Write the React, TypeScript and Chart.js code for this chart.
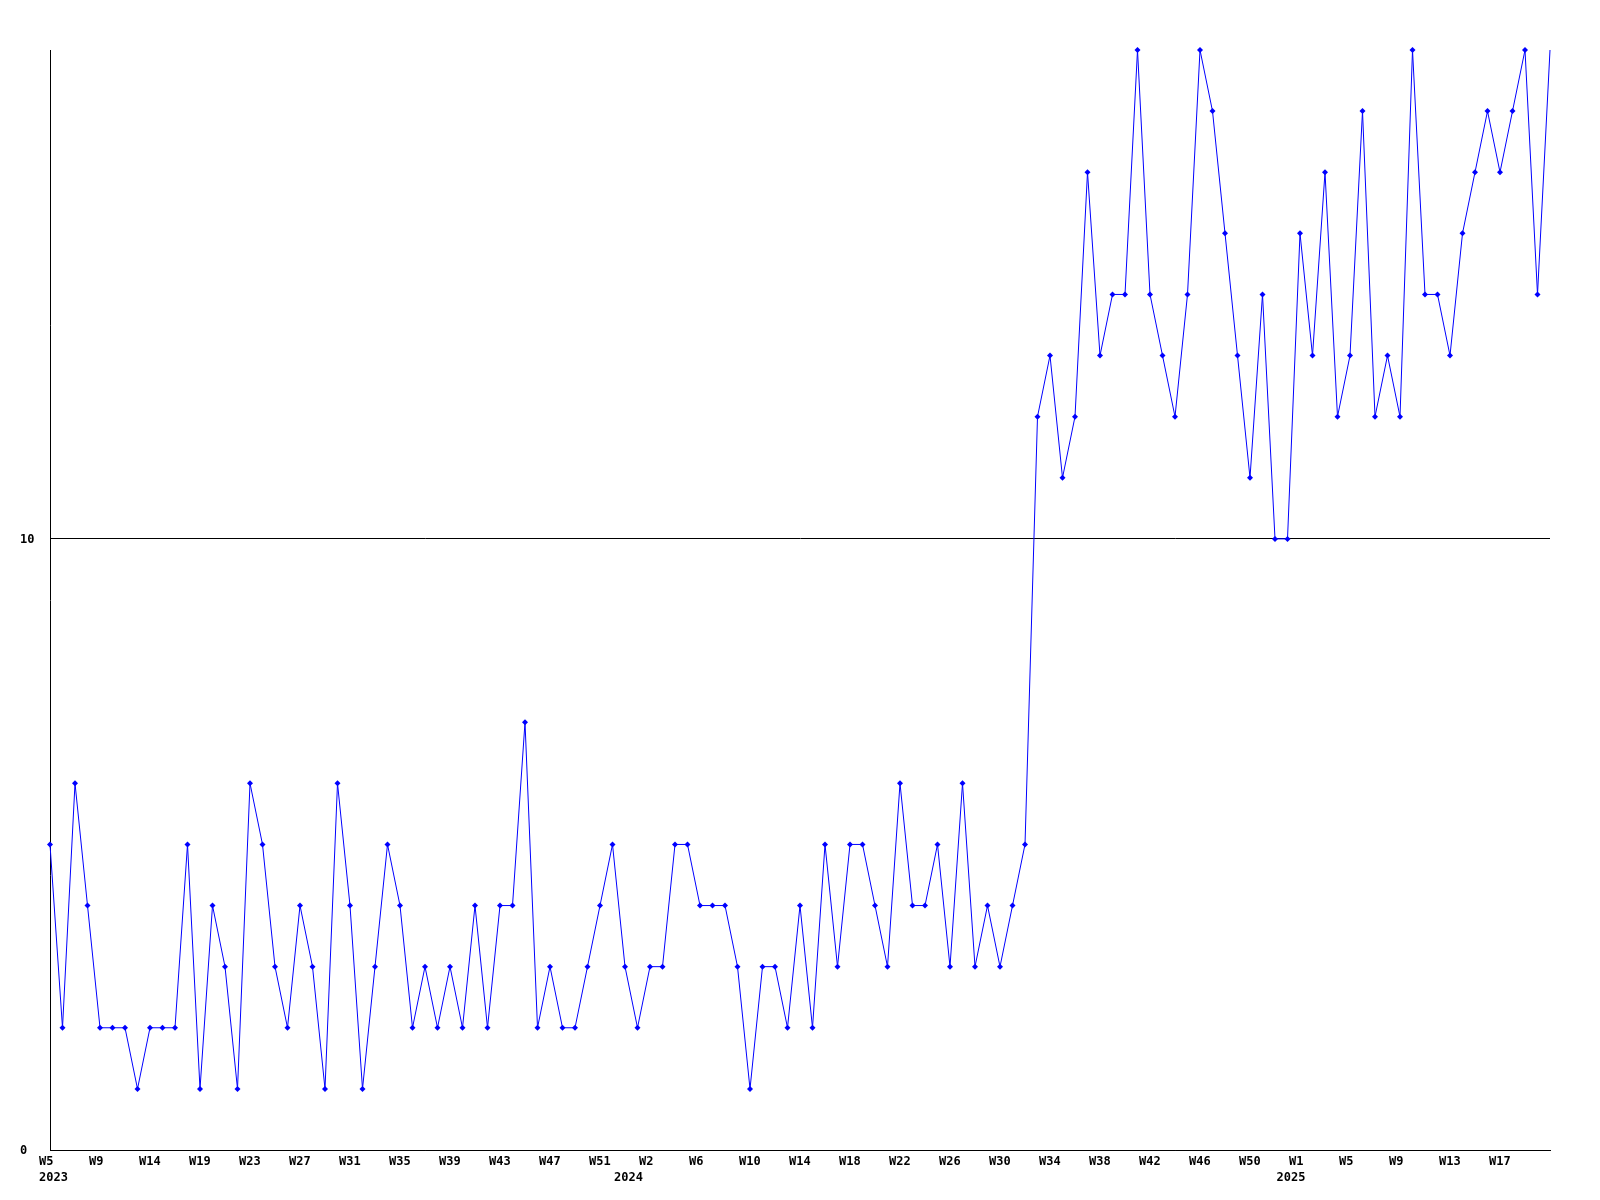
import React, { useEffect, useRef } from "react";
import { Chart, registerables } from "chart.js";

Chart.register(...registerables);

// Weekly counts, one per week starting 2023 W5
const weeklyValues: number[] = [
  5, 2, 6, 4, 2, 2, 2, 1, 2, 2, 2, 5, 1, 4, 3, 1, 6, 5, 3, 2,
  4, 3, 1, 6, 4, 1, 3, 5, 4, 2, 3, 2, 3, 2, 4, 2, 4, 4, 7, 2,
  3, 2, 2, 3, 4, 5, 3, 2, 3, 3, 5, 5, 4, 4, 4, 3, 1, 3, 3, 2,
  4, 2, 5, 3, 5, 5, 4, 3, 6, 4, 4, 5, 3, 6, 3, 4, 3, 4, 5,
  12, 13, 11, 12, 16, 13, 14, 14, 18, 14, 13, 12, 14, 18, 17, 15, 13, 11, 14, 10,
  10, 15, 13, 16, 12, 13, 17, 12, 13, 12, 18, 14, 14, 13, 15, 16, 17, 16, 17, 18,
  14, 18,
];

// Week tick labels, every 4th point
const weekTickLabels: string[] = [
  "W5", "W9", "W14", "W19", "W23", "W27", "W31", "W35", "W39", "W43",
  "W47", "W51", "W2", "W6", "W10", "W14", "W18", "W22", "W26", "W30",
  "W34", "W38", "W42", "W46", "W50", "W1", "W5", "W9", "W13", "W17",
];
const weekTickStep = 4;

// Year labels and the point index where each year starts
const yearLabels: string[] = ["2023", "2024", "2025"];
const yearStartIndex: number[] = [0, 46, 99];

// Y axis ticks
const yTickValues: number[] = [0, 10];
const yMax = 18;

const tickFont = { family: "'DejaVu Sans Mono', monospace", size: 12, weight: "bold" as const };

export default function App() {
  const canvasRef = useRef<HTMLCanvasElement | null>(null);

  useEffect(() => {
    const canvas = canvasRef.current;
    if (!canvas) return;
    const lastIdx = weeklyValues.length - 1;
    const chart = new Chart(canvas, {
      type: "line",
      data: {
        datasets: [
          {
            data: weeklyValues.map((v, i) => ({ x: i, y: v })),
            borderColor: "#0000ff",
            backgroundColor: "#0000ff",
            borderWidth: 1,
            tension: 0,
            fill: false,
            pointStyle: "rectRot",
            pointRadius: (ctx: any) => (ctx.dataIndex === lastIdx ? 0 : 3),
            pointBorderWidth: 0,
            pointBackgroundColor: "#0000ff",
            clip: false as any,
          },
        ],
      },
      options: {
        animation: false,
        responsive: false,
        maintainAspectRatio: false,
        layout: { padding: { left: 20, right: 50, top: 50, bottom: 0 } },
        plugins: {
          legend: { display: false },
          tooltip: { enabled: false },
          title: { display: false },
        },
        scales: {
          x: {
            type: "linear",
            position: "bottom",
            min: 0,
            max: lastIdx,
            weight: 0,
            grid: { display: false, drawTicks: false },
            border: { display: true, color: "#000000", width: 1 },
            ticks: {
              stepSize: weekTickStep,
              autoSkip: false,
              maxRotation: 0,
              align: "start",
              labelOffset: -11,
              padding: 5,
              color: "#000000",
              font: tickFont,
              callback: (value: any) => {
                const k = Math.round(Number(value) / weekTickStep);
                return weekTickLabels[k] ?? "";
              },
            },
            afterFit: (s: any) => {
              s.height = 16;
            },
          },
          x2: {
            type: "linear",
            position: "bottom",
            min: 0,
            max: lastIdx,
            weight: 1,
            grid: { display: false, drawTicks: false },
            border: { display: false },
            afterBuildTicks: (s: any) => {
              s.ticks = yearStartIndex.map((v) => ({ value: v }));
            },
            ticks: {
              autoSkip: false,
              maxRotation: 0,
              align: "start",
              labelOffset: -11,
              padding: 5,
              color: "#000000",
              font: tickFont,
              callback: (_value: any, index: number) => yearLabels[index] ?? "",
            },
            afterFit: (s: any) => {
              s.height = 34;
            },
          },
          y: {
            type: "linear",
            position: "left",
            min: 0,
            max: yMax,
            grid: { display: true, color: "#000000", lineWidth: 1, drawTicks: false },
            border: { display: true, color: "#000000", width: 1 },
            afterBuildTicks: (s: any) => {
              s.ticks = yTickValues.map((v) => ({ value: v }));
            },
            ticks: {
              crossAlign: "far",
              color: "#000000",
              font: tickFont,
              padding: 0,
              labelOffset: 1,
              callback: (value: any) => String(value),
            },
            afterFit: (s: any) => {
              s.width = 30;
            },
          },
        },
      },
    });
    return () => {
      chart.destroy();
    };
  }, []);

  return (
    <div style={{ position: "absolute", left: 0, top: 0, width: 1600, height: 1200, background: "#ffffff" }}>
      <canvas ref={canvasRef} width={1600} height={1200} style={{ display: "block" }} />
    </div>
  );
}
